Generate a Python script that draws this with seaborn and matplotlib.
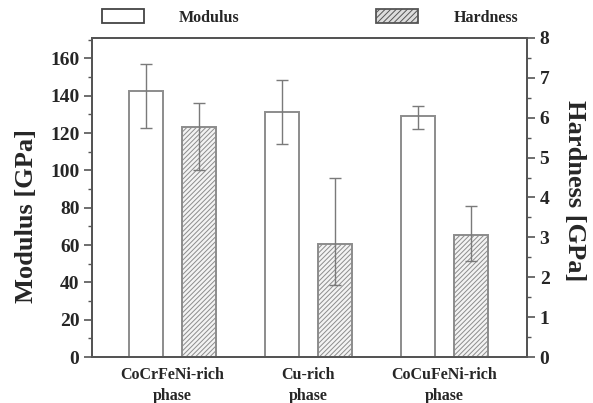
import matplotlib
matplotlib.use("Agg")
import matplotlib.pyplot as plt
import seaborn as sns
import pandas as pd
from matplotlib.patches import Patch
from matplotlib.ticker import MultipleLocator

# ---- data ----
phases = ["CoCrFeNi-rich\nphase", "Cu-rich\nphase", "CoCuFeNi-rich\nphase"]
measures = ["Modulus", "Hardness"]
modulus = [142.8, 131.2, 129.3]
modulus_low = [122.5, 114.4, 122.1]
modulus_high = [157.1, 148.4, 134.6]
hardness = [5.77, 2.83, 3.07]
hardness_low = [4.69, 1.80, 2.41]
hardness_high = [6.36, 4.49, 3.79]

sns.set_style("ticks")
plt.rcParams["font.family"] = ["Liberation Serif", "DejaVu Serif"]
plt.rcParams["font.weight"] = "bold"
plt.rcParams["hatch.linewidth"] = 0.7

edge = "#8c8c8c"
spine = "#555555"

fig = plt.figure(figsize=(5.93, 4.03), dpi=100)
ax = fig.add_axes([0.155, 0.114, 0.734, 0.792])
ax2 = ax.twinx()

df_mod = pd.DataFrame({"phase": phases, "value": modulus, "measure": measures[0]})
df_hard = pd.DataFrame({"phase": phases, "value": hardness, "measure": measures[1]})
pal = {"Modulus": "white", "Hardness": "#f3f3f3"}

sns.barplot(data=df_mod, x="phase", y="value", hue="measure", hue_order=measures,
            order=phases, ax=ax, width=0.78, gap=0.36, dodge=True, palette=pal,
            edgecolor=edge, linewidth=1.4, errorbar=None, legend=False)
sns.barplot(data=df_hard, x="phase", y="value", hue="measure", hue_order=measures,
            order=phases, ax=ax2, width=0.78, gap=0.36, dodge=True, palette=pal,
            edgecolor=edge, linewidth=1.4, errorbar=None, legend=False)
for p in ax2.patches:
    p.set_hatch("///////")

# error bars (asymmetric), centered on each bar
xm = [p.get_x() + p.get_width() / 2 for p in ax.patches]
xh = [p.get_x() + p.get_width() / 2 for p in ax2.patches]
ax.errorbar(xm, modulus,
            yerr=[[v - l for v, l in zip(modulus, modulus_low)],
                  [h - v for v, h in zip(modulus, modulus_high)]],
            fmt="none", ecolor="#7a7a7a", elinewidth=1.0, capsize=4, capthick=1.0, zorder=5)
ax2.errorbar(xh, hardness,
             yerr=[[v - l for v, l in zip(hardness, hardness_low)],
                   [h - v for v, h in zip(hardness, hardness_high)]],
             fmt="none", ecolor="#7a7a7a", elinewidth=1.0, capsize=4, capthick=1.0, zorder=5)

ax.set_xlim(-0.59, 2.61)
ax.set_ylim(0, 171)
ax2.set_ylim(0, 8)
ax.yaxis.set_major_locator(MultipleLocator(20))
ax.yaxis.set_minor_locator(MultipleLocator(10))
ax2.yaxis.set_major_locator(MultipleLocator(1))
ax2.yaxis.set_minor_locator(MultipleLocator(0.5))

for a in (ax, ax2):
    for s in a.spines.values():
        s.set_visible(True)
        s.set_color(spine)
        s.set_linewidth(1.4)
    a.tick_params(axis="y", which="major", direction="out", length=6, width=1.2,
                  color=spine, labelsize=14, pad=3)
    a.tick_params(axis="y", which="minor", direction="out", length=3, width=1.0, color=spine)
ax.tick_params(axis="x", length=0, labelsize=11.5, pad=7)
ax2.tick_params(axis="x", length=0)
for lab in ax.get_yticklabels() + ax2.get_yticklabels():
    lab.set_fontweight("bold")
for lab in ax.get_xticklabels():
    lab.set_fontweight("bold")
    lab.set_linespacing(1.45)

ax.set_xlabel("")
ax2.set_xlabel("")
ax.set_ylabel("Modulus [GPa]", fontsize=19, fontweight="bold")
ax.yaxis.set_label_coords(-0.124, 0.442)
ax2.set_ylabel("Hardness [GPa]", fontsize=19, fontweight="bold", rotation=270)
ax2.yaxis.label.set_va("bottom")
ax2.yaxis.set_label_coords(1.083, 0.52)

handles = [Patch(facecolor="white", edgecolor="#444444", linewidth=1.3, label="Modulus"),
           Patch(facecolor="#dddddd", edgecolor="#555555", linewidth=1.3, hatch="//////",
                 label="Hardness")]
fig.legend(handles=handles, loc="upper left", bbox_to_anchor=(0.158, 0.997), ncol=2,
           frameon=False, borderpad=0, handlelength=2.63, handleheight=1.0,
           handletextpad=2.2, columnspacing=8.56,
           prop={"family": ["Liberation Serif"], "weight": "bold", "size": 11.5})

fig.savefig("out.png", dpi=100)
